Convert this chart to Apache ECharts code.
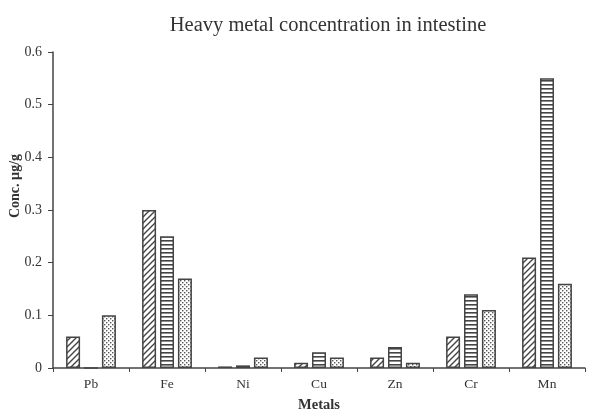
<!DOCTYPE html>
<html><head><meta charset="utf-8">
<script src="https://cdn.jsdelivr.net/npm/echarts@6/dist/echarts.min.js"></script>
<style>html,body{margin:0;padding:0;background:#fff}#c{width:589px;height:412px}</style>
</head><body><div id="c"></div>
<script>
const categories = ['Pb','Fe','Ni','Cu','Zn','Cr','Mn'];
const seriesA = [0.06, 0.30, 0.003, 0.01, 0.02, 0.06, 0.21];
const seriesB = [0, 0.25, 0.005, 0.03, 0.04, 0.14, 0.55];
const seriesC = [0.10, 0.17, 0.02, 0.02, 0.01, 0.11, 0.16];
const yTicks = [0, 0.1, 0.2, 0.3, 0.4, 0.5, 0.6];

function makePattern(type){
  const c = document.createElement('canvas');
  const ctx = c.getContext('2d');
  if(type==='diag'){
    c.width=6;c.height=6;
    ctx.fillStyle='#fff';ctx.fillRect(0,0,6,6);
    ctx.strokeStyle='#444';ctx.lineWidth=1.4;
    ctx.beginPath();
    ctx.moveTo(0,6);ctx.lineTo(6,0);
    ctx.moveTo(-3,3);ctx.lineTo(3,-3);
    ctx.moveTo(3,9);ctx.lineTo(9,3);
    ctx.stroke();
  } else if(type==='horiz'){
    c.width=4;c.height=4;
    ctx.fillStyle='#fff';ctx.fillRect(0,0,4,4);
    ctx.fillStyle='#444';ctx.fillRect(0,0,4,1.6);
  } else {
    c.width=4;c.height=4;
    ctx.fillStyle='#fff';ctx.fillRect(0,0,4,4);
    ctx.fillStyle='#555';
    ctx.fillRect(0,0,1.4,1.4);ctx.fillRect(2,2,1.4,1.4);
  }
  return {image:c, repeat:'repeat'};
}

const font = 'Liberation Serif';
const chart = echarts.init(document.getElementById('c'));
const mk = (name, data, pat) => ({
  name, type:'bar', data, barWidth:14, barGap:'28%',
  itemStyle:{color:makePattern(pat), borderColor:'#444', borderWidth:1.5},
  animation:false
});
chart.setOption({
  animation:false,
  title:{text:'Heavy metal concentration in intestine', left:323, textAlign:'center', top:10,
    textStyle:{fontFamily:font, fontSize:20.5, fontWeight:'normal', color:'#333'}},
  grid:{left:53, right:4, top:52, bottom:44, containLabel:false, outerBoundsMode:'none'},
  xAxis:{type:'category', data:categories, name:'Metals', nameLocation:'middle', nameGap:30,
    nameMoveOverlap:false,
    nameTextStyle:{fontFamily:font, fontSize:14.5, fontWeight:'bold', color:'#333'},
    axisLine:{lineStyle:{color:'#444', width:1.5}},
    axisTick:{show:true, length:4, lineStyle:{color:'#444'}},
    axisLabel:{fontFamily:font, fontSize:13.5, color:'#333', margin:9}},
  yAxis:{type:'value', min:0, max:0.6, interval:0.1, name:'Conc. µg/g', nameLocation:'middle', nameGap:31,
    nameMoveOverlap:false,
    nameTextStyle:{fontFamily:font, fontSize:14, fontWeight:'bold', color:'#333', padding:[0,0,0,48]},
    splitLine:{show:false},
    axisLine:{show:true, lineStyle:{color:'#444', width:1.5}},
    axisTick:{show:true, length:5, lineStyle:{color:'#444'}},
    axisLabel:{fontFamily:font, fontSize:14, color:'#333', margin:11,
      formatter:v=>{const t=yTicks.find(x=>Math.abs(x-v)<1e-9);return t===undefined?'':String(t);}}},
  series:[mk('A',seriesA,'diag'), mk('B',seriesB,'horiz'), mk('C',seriesC,'dots')]
});
</script></body></html>
